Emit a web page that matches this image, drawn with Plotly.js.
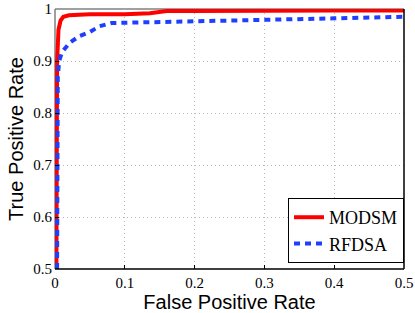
<!DOCTYPE html>
<html><head><meta charset="utf-8">
<script src="https://cdn.plot.ly/plotly-3.0.1.min.js"></script>
<style>html,body{margin:0;padding:0;background:#fff}#c{width:415px;height:313px}</style>
</head><body><div id="c"></div>
<script>
const modsmFPR = [0.002, 0.002, 0.003, 0.005, 0.008, 0.012, 0.02, 0.05, 0.1, 0.136, 0.16, 0.2, 0.3, 0.4, 0.5];
const modsmTPR = [0.5, 0.8, 0.9, 0.96, 0.978, 0.985, 0.988, 0.99, 0.99, 0.992, 0.996, 0.996, 0.997, 0.997, 0.997];
const rfdsaFPR = [0.003, 0.003, 0.004, 0.006, 0.01, 0.021, 0.035, 0.05, 0.064, 0.081, 0.14, 0.2, 0.3, 0.4, 0.5];
const rfdsaTPR = [0.5, 0.8, 0.87, 0.9, 0.917, 0.935, 0.948, 0.956, 0.967, 0.973, 0.975, 0.977, 0.979, 0.982, 0.985];
const xTicks = [0, 0.1, 0.2, 0.3, 0.4, 0.5];
const xTickLabels = ['0', '0.1', '0.2', '0.3', '0.4', '0.5'];
const yTicks = [0.5, 0.6, 0.7, 0.8, 0.9, 1];
const yTickLabels = ['0.5', '0.6', '0.7', '0.8', '0.9', '1'];

const serif = '"Times New Roman", "Liberation Serif", Times, serif';
const traces = [
  {x: modsmFPR, y: modsmTPR, name: 'MODSM', mode: 'lines', line: {color: '#ff0000', width: 4}},
  {x: rfdsaFPR, y: rfdsaTPR, name: 'RFDSA', mode: 'lines', line: {color: '#1f3fff', width: 4, dash: '6px,5px'}}
];
const tickFont = {family: serif, size: 15, color: '#000'};
const titleFont = {family: 'Arial, "Liberation Sans", sans-serif', size: 20, color: '#000'};
const layout = {
  width: 415, height: 313,
  margin: {l: 55, r: 11, t: 9, b: 44},
  paper_bgcolor: '#fff', plot_bgcolor: '#fff',
  showlegend: true,
  legend: {x: 1, y: 0.023, xanchor: 'right', yanchor: 'bottom', bgcolor: '#fff', bordercolor: '#000', borderwidth: 1,
    font: {family: serif, size: 18, color: '#000'}, tracegroupgap: 0, itemwidth: 30},
  xaxis: {range: [0, 0.5], tickvals: xTicks, ticktext: xTickLabels, tickfont: tickFont,
    showgrid: true, gridcolor: '#b8b8b8', griddash: '1px,3px', gridwidth: 1, zeroline: false,
    ticks: 'inside', ticklen: 4, tickcolor: '#000', showline: false, ticklabelstandoff: 3,
    title: {text: 'False Positive Rate', font: titleFont, standoff: 2}},
  yaxis: {range: [0.5, 1], tickvals: yTicks, ticktext: yTickLabels, tickfont: tickFont,
    showgrid: true, gridcolor: '#b8b8b8', griddash: '1px,3px', gridwidth: 1, zeroline: false,
    ticks: 'inside', ticklen: 4, tickcolor: '#000', showline: false, ticklabelstandoff: 2,
    title: {text: 'True Positive Rate', font: titleFont, standoff: 4}},
  shapes: [
    {type: 'line', xref: 'paper', yref: 'paper', x0: 0, x1: 1, y0: 1, y1: 1, line: {color: '#808080', width: 1.5}, layer: 'below'},
    {type: 'line', xref: 'paper', yref: 'paper', x0: 0, x1: 0, y0: 0, y1: 1, line: {color: '#808080', width: 1.5}, layer: 'below'},
    {type: 'line', xref: 'paper', yref: 'paper', x0: 0, x1: 1, y0: 0, y1: 0, line: {color: '#000', width: 1.5}, layer: 'above'},
    {type: 'line', xref: 'paper', yref: 'paper', x0: 1, x1: 1, y0: 0, y1: 1, line: {color: '#000', width: 1.5}, layer: 'above'}
  ]
};
Plotly.newPlot('c', traces, layout, {displayModeBar: false, staticPlot: true});
</script></body></html>
